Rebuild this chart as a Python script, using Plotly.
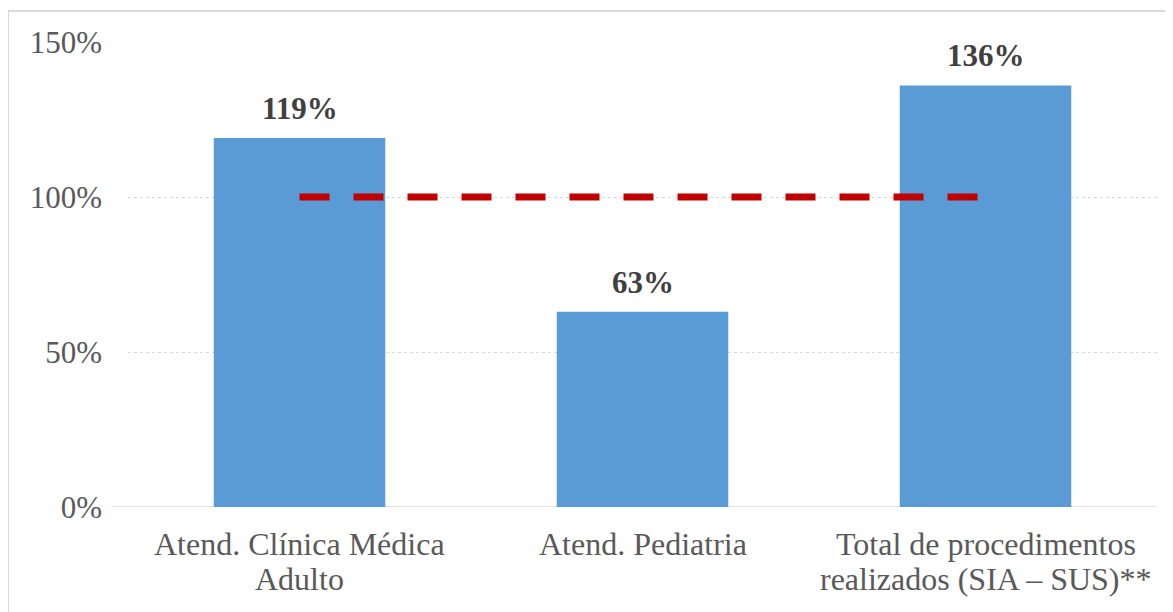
import plotly.graph_objects as go

categories = ["Atend. Clínica Médica<br>Adulto", "Atend. Pediatria", "Total de procedimentos<br>realizados (SIA – SUS)**"]
values = [119, 63, 136]
labels = ["119%", "63%", "136%"]
target = [100, 100, 100]
y_ticks = [0, 50, 100, 150]
y_tick_labels = ["0%", "50%", "100%", "150%"]

W, H = 1173, 612
OFF = 8  # page body margin
# desired plot area in screenshot pixels
PX0, PX1, PY0, PY1 = 128, 1157, 42, 507
L, T = PX0 - OFF, PY0 - OFF
R = W + OFF - PX1
B = H + OFF - PY1
pw, ph = PX1 - PX0, PY1 - PY0

def px_x(p):
    return (p - PX0) / pw

def px_y(p):
    return (PY1 - p) / ph

FONT = "Liberation Serif"

fig = go.Figure()
fig.add_trace(go.Bar(x=categories, y=values, marker=dict(color="#5B9BD5", line=dict(width=0)),
                     width=0.5, hoverinfo="skip"))
fig.add_trace(go.Scatter(x=categories, y=target, mode="lines",
                         line=dict(color="#C00000", width=7, dash="30px,24px"), hoverinfo="skip"))

for c, v, t in zip(categories, values, labels):
    fig.add_annotation(x=c, y=v, text="<b>" + t + "</b>", showarrow=False, yanchor="bottom", yshift=10,
                       font=dict(family=FONT, size=31, color="#404040"))

# category labels (tight line spacing like the original)
for c in categories:
    for i, line in enumerate(c.split("<br>")):
        fig.add_annotation(x=c, y=0, yref="y", text=line, showarrow=False, yanchor="top",
                           yshift=-17 - 35 * i,
                           font=dict(family=FONT, size=32, color="#595959"))

# chart border
fig.add_shape(type="rect", xref="paper", yref="paper", x0=px_x(8), x1=px_x(1190), y0=px_y(630), y1=px_y(11),
              line=dict(color="#D9D9D9", width=2), layer="below")
# category axis line
fig.add_shape(type="line", xref="paper", yref="y", x0=px_x(112), x1=1, y0=0, y1=0,
              line=dict(color="#D9D9D9", width=1.5), layer="below")

fig.update_layout(
    width=W, height=H, margin=dict(l=L, r=R, t=T, b=B),
    paper_bgcolor="white", plot_bgcolor="white", showlegend=False,
    font=dict(family=FONT, size=31, color="#595959"),
    xaxis=dict(showgrid=False, showline=False, ticks="", showticklabels=False),
    yaxis=dict(range=[0, 150], tickvals=y_ticks, ticktext=y_tick_labels, showgrid=True,
               gridcolor="#D9D9D9", griddash="dot", gridwidth=1, zeroline=False, showline=False,
               ticks="", ticklabelstandoff=25, tickfont=dict(family=FONT, size=31, color="#595959")),
)
fig.write_html("out.html")
